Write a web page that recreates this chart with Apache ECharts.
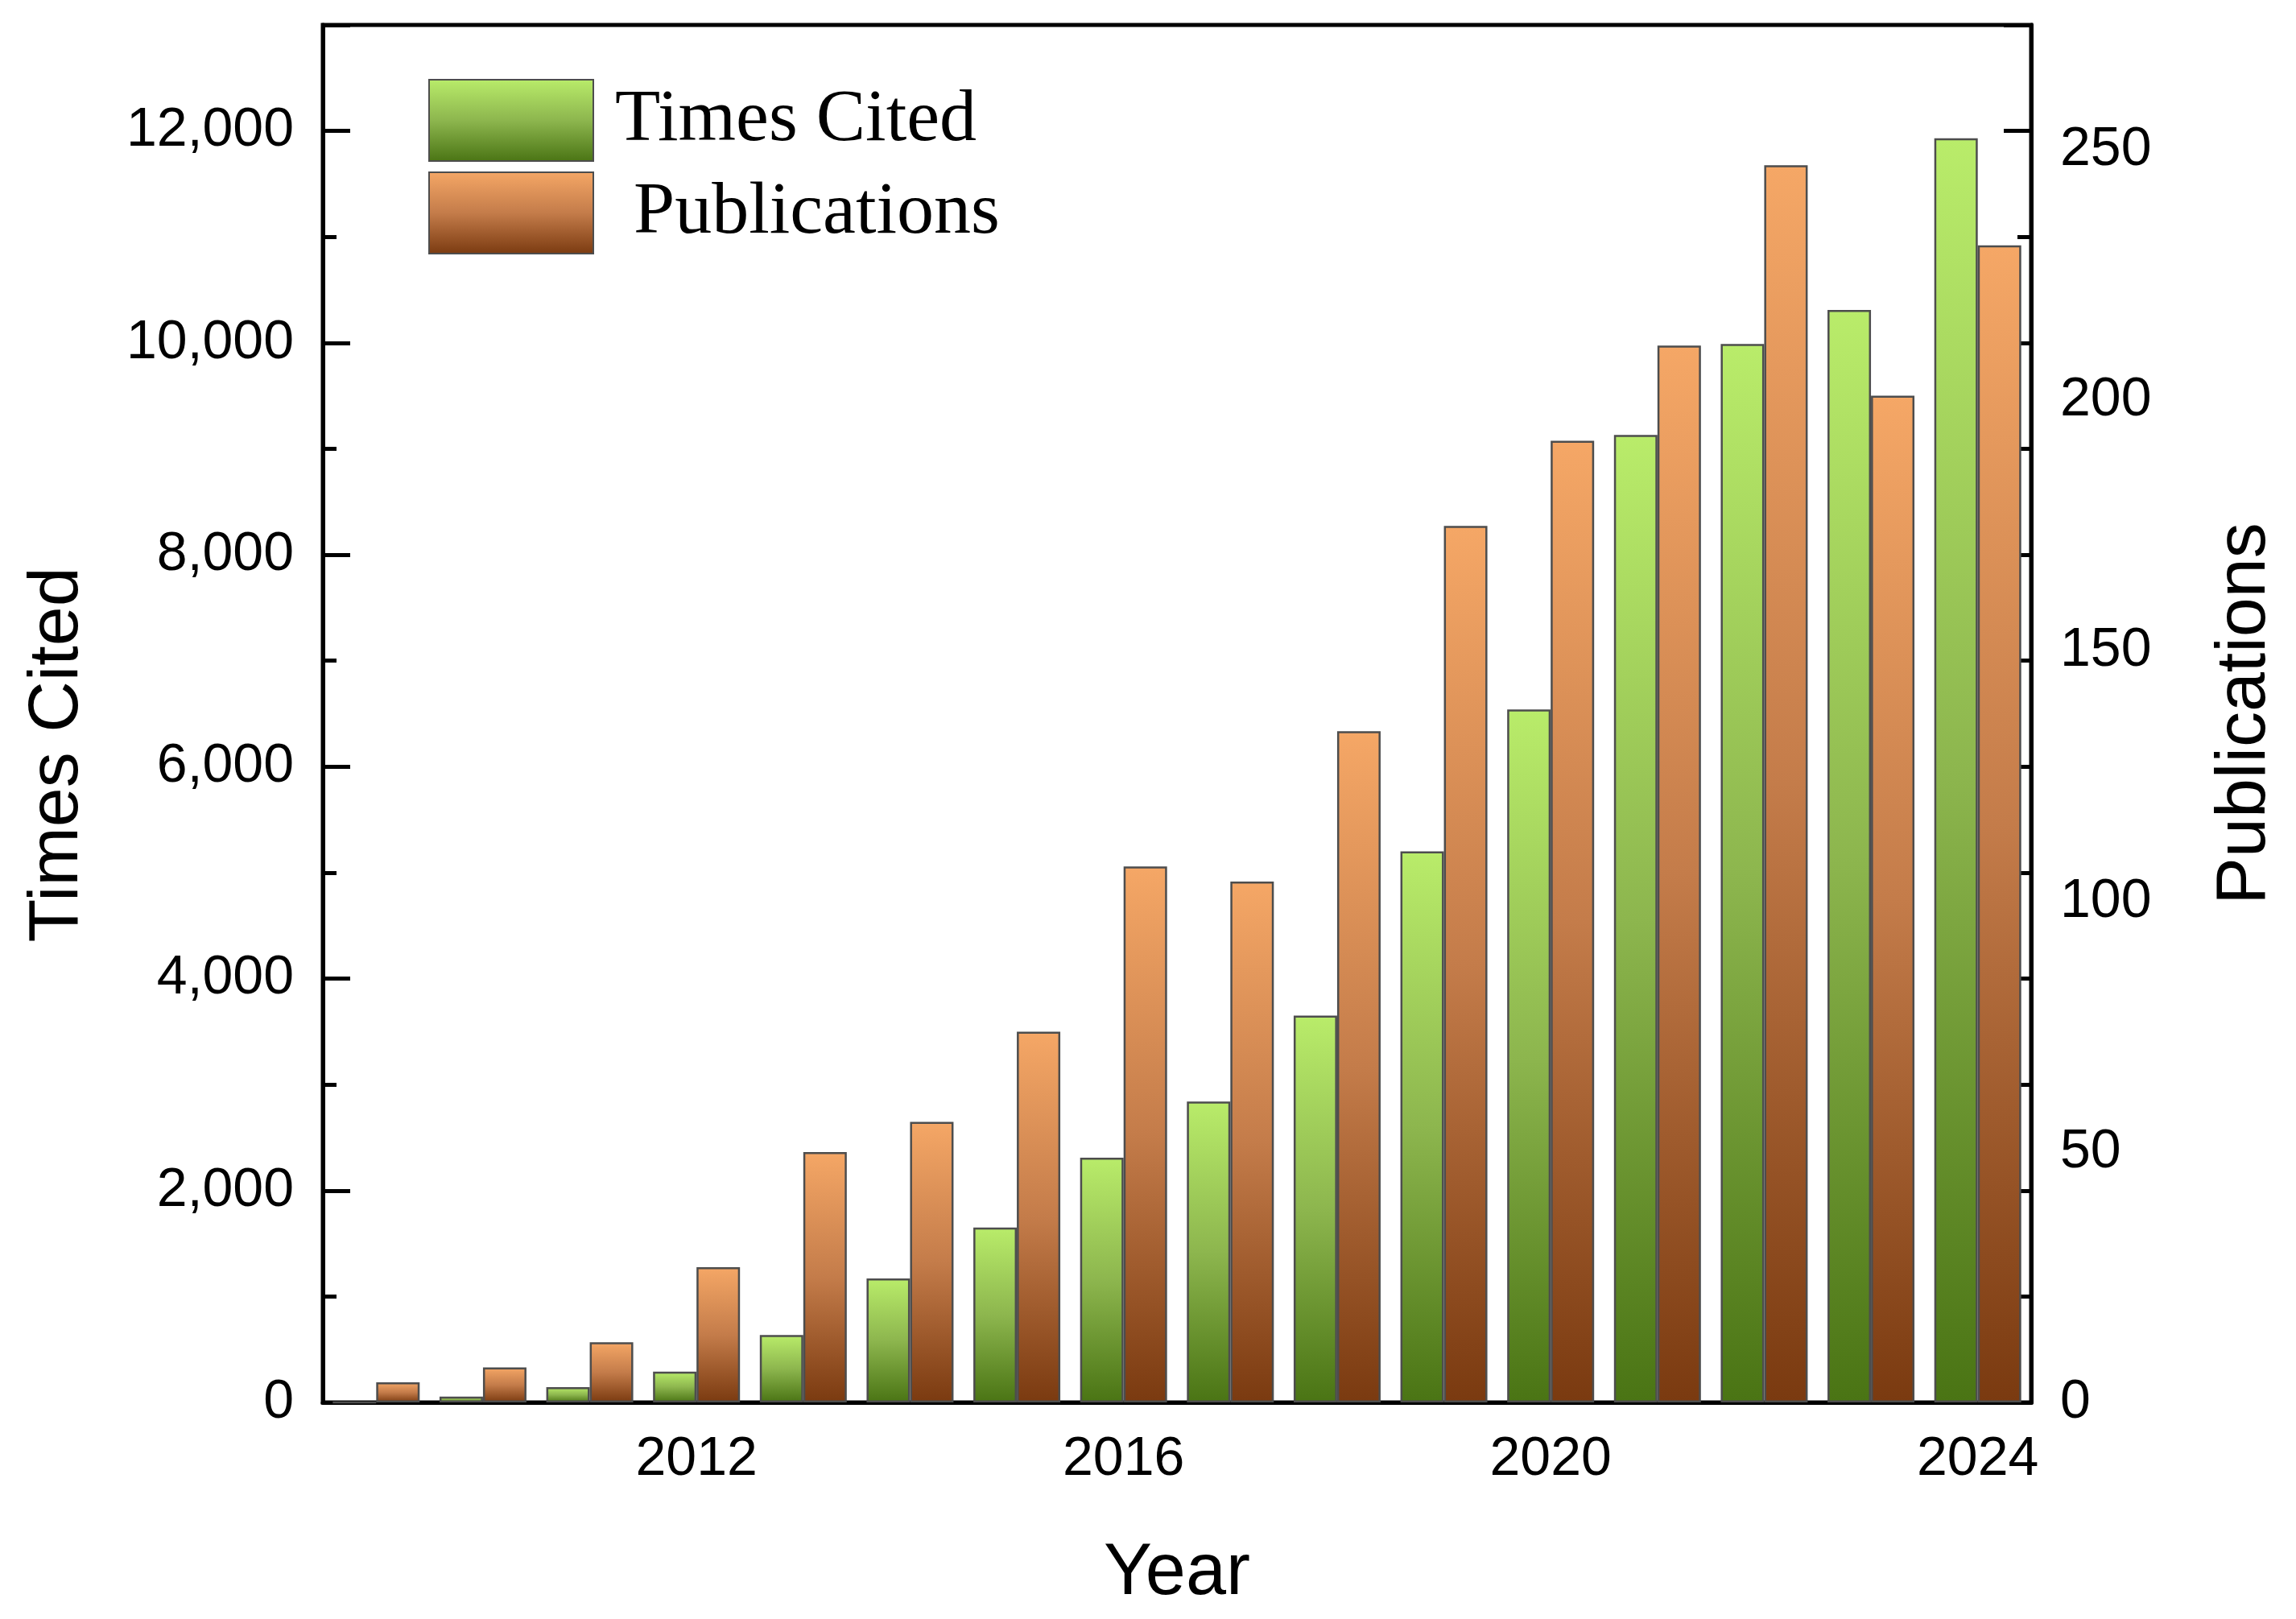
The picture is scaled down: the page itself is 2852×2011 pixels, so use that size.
<!DOCTYPE html>
<html>
<head>
<meta charset="utf-8">
<script src="https://cdn.jsdelivr.net/npm/echarts@6/dist/echarts.min.js"></script>
<style>
html,body{margin:0;padding:0;background:#fff;}
#chart{width:2852px;height:2011px;}
</style>
</head>
<body>
<div id="chart"></div>
<script>
const years = ['2009','2010','2011','2012','2013','2014','2015','2016','2017','2018','2019','2020','2021','2022','2023','2024'];
const timesCited = [0, 55, 145, 290, 636, 1170, 1650, 2310, 2840, 3650, 5200, 6540, 9130, 9990, 10310, 11930];
const publications = [4, 7, 12, 27, 50, 56, 74, 107, 104, 134, 175, 192, 211, 247, 201, 231];
const citedTicks = [0, 2000, 4000, 6000, 8000, 10000, 12000];
const pubTicks = [0, 50, 100, 150, 200, 250];
const yearLabels = ['2012', '2016', '2020', '2024'];
const yearMinor = ['2010', '2014', '2018', '2022'];

const chart = echarts.init(document.getElementById('chart'), null, {renderer: 'canvas'});
const black = '#000';
const sans = 'Liberation Sans, Arial, sans-serif';
const lineW = 5;

const greenGrad = new echarts.graphic.LinearGradient(0, 0, 0, 1, [
  {offset: 0, color: '#b9ec6a'},
  {offset: 0.5, color: '#8db64e'},
  {offset: 1, color: '#4a7414'}
]);
const orangeGrad = new echarts.graphic.LinearGradient(0, 0, 0, 1, [
  {offset: 0, color: '#f5a766'},
  {offset: 0.5, color: '#c47c4a'},
  {offset: 1, color: '#7a3a10'}
]);

const tickStyle = {color: black, width: lineW};

const option = {
  animation: false,
  backgroundColor: '#fff',
  grid: {left: 401, right: 329, top: 31, bottom: 269, show: true, borderColor: black, borderWidth: lineW, backgroundColor: 'transparent'},
  legend: {
    data: ['Times Cited', 'Publications'],
    orient: 'vertical', left: 532, top: 98, padding: 0,
    itemWidth: 204, itemHeight: 101, itemGap: 12, icon: 'rect',
    formatter: n => n === 'Publications' ? ' ' + n : n,
    textStyle: {fontFamily: 'Liberation Serif, Times New Roman, serif', fontSize: 92, color: black, padding: [0, 0, 0, 22]}
  },
  xAxis: [
    {
      type: 'category', data: years, position: 'bottom',
      axisLine: {lineStyle: {color: black, width: lineW}},
      axisTick: {inside: true, length: 34, alignWithLabel: true, interval: (i, v) => yearLabels.includes(String(v)), lineStyle: tickStyle},
      axisLabel: {interval: (i, v) => yearLabels.includes(String(v)), fontSize: 68, margin: 37, color: black, fontFamily: sans},
      splitLine: {show: false},
      name: 'Year', nameLocation: 'middle', nameGap: 168,
      nameTextStyle: {fontSize: 90, color: black, fontFamily: sans}
    },
    {
      type: 'category', data: years, position: 'bottom',
      axisLine: {show: false},
      axisTick: {inside: true, length: 17, alignWithLabel: true, interval: (i, v) => yearMinor.includes(String(v)), lineStyle: tickStyle},
      axisLabel: {show: false}, splitLine: {show: false}
    }
  ],
  yAxis: [
    {
      type: 'value', position: 'left', min: 0, max: 13000, interval: 2000,
      axisLine: {show: true, lineStyle: {color: black, width: lineW}},
      axisTick: {show: true, inside: true, length: 34, lineStyle: tickStyle},
      axisLabel: {fontSize: 68, margin: 36, color: black, fontFamily: sans,
        formatter: v => citedTicks.includes(v) ? v.toLocaleString('en-US') : ''},
      splitLine: {show: false},
      name: 'Times Cited', nameLocation: 'middle', nameGap: 285, nameRotate: 90,
      nameTextStyle: {fontSize: 88, color: black, fontFamily: sans, padding: [0, 102, 0, 0]}
    },
    {
      type: 'value', position: 'left', min: 0, max: 13000, interval: 1000,
      axisLine: {show: false},
      axisTick: {show: true, inside: true, length: 17, lineStyle: tickStyle},
      axisLabel: {show: false}, splitLine: {show: false}
    },
    {
      type: 'value', position: 'right', min: 0, max: 13000, interval: 2000,
      axisLine: {show: true, lineStyle: {color: black, width: lineW}},
      axisTick: {show: true, inside: true, length: 34, lineStyle: tickStyle},
      axisLabel: {show: false}, splitLine: {show: false}
    },
    {
      type: 'value', position: 'right', min: 0, max: 13000, interval: 1000,
      axisLine: {show: false},
      axisTick: {show: true, inside: true, length: 17, lineStyle: tickStyle},
      axisLabel: {show: false}, splitLine: {show: false}
    },
    {
      type: 'value', position: 'right', min: 0, max: 275, interval: 50,
      axisLine: {show: false},
      axisTick: {show: false},
      axisLabel: {fontSize: 68, margin: 36, color: black, fontFamily: sans,
        formatter: v => pubTicks.includes(v) ? String(v) : ''},
      splitLine: {show: false},
      name: 'Publications', nameLocation: 'middle', nameGap: 222, nameRotate: 90,
      nameTextStyle: {fontSize: 88, color: black, fontFamily: sans}
    }
  ],
  series: [
    {
      name: 'Times Cited', type: 'bar', xAxisIndex: 0, yAxisIndex: 0,
      data: timesCited, barWidth: 54, barGap: '0%',
      itemStyle: {color: greenGrad, borderColor: '#4d4d4d', borderWidth: 2.5}
    },
    {
      name: 'Publications', type: 'bar', xAxisIndex: 0, yAxisIndex: 4,
      data: publications, barWidth: 54, barGap: '0%',
      itemStyle: {color: orangeGrad, borderColor: '#4d4d4d', borderWidth: 2.5}
    }
  ]
};
chart.setOption(option);
</script>
</body>
</html>
